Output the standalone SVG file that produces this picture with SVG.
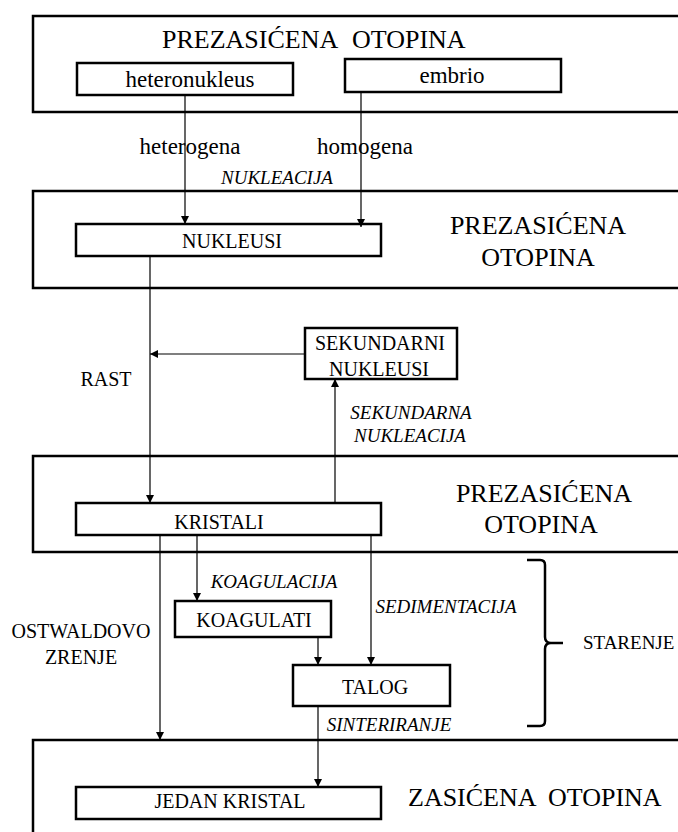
<svg xmlns="http://www.w3.org/2000/svg" width="678" height="832" viewBox="0 0 678 832" font-family="'Liberation Serif', 'Times New Roman', Times, 'DejaVu Serif', serif">
<style>
  .frame { fill: none; stroke: #000; stroke-width: 2.5; }
  .box { fill: #fff; stroke: #000; stroke-width: 2.5; }
  .line { fill: none; stroke: #000; stroke-width: 1.2; }
  text { font-family: 'Liberation Serif', 'Times New Roman', Times, 'DejaVu Serif', serif; fill: #000; }
  .title { font-size: 26px; }
  .lbl { font-size: 20px; text-anchor: middle; }
  .lbl-l { font-size: 23px; text-anchor: middle; }
  .it { font-size: 19px; font-style: italic; text-anchor: middle; }
</style>
<defs>
  <marker id="arr" viewBox="0 0 10 10" refX="10" refY="5" markerWidth="8" markerHeight="8" markerUnits="userSpaceOnUse" orient="auto">
    <path d="M0,0 L10,5 L0,10 z" fill="#000"/>
  </marker>
</defs>
<rect width="678" height="832" fill="#fff"/>

<g id="zone1">
  <rect class="frame" x="33" y="16" width="680" height="96"/>
  <text class="title" y="48"><tspan x="162">PREZASIĆENA</tspan><tspan x="352">OTOPINA</tspan></text>
</g>
<g id="heteronukleus">
  <rect class="box" x="77" y="63" width="216" height="32"/>
  <text class="lbl-l" x="190" y="87">heteronukleus</text>
</g>
<g id="embrio">
  <rect class="box" x="345" y="59" width="216" height="33"/>
  <text class="lbl-l" x="452" y="83">embrio</text>
</g>

<g id="zone2">
  <rect class="frame" x="33" y="191" width="680" height="97"/>
  <text class="title" x="538" y="234" text-anchor="middle">PREZASIĆENA</text>
  <text class="title" x="538" y="266" text-anchor="middle">OTOPINA</text>
</g>
<g id="nukleusi">
  <rect class="box" x="76" y="224" width="305" height="32"/>
  <text class="lbl" x="232" y="248">NUKLEUSI</text>
</g>
<g id="sekundarni">
  <rect class="box" x="305" y="328" width="152" height="51"/>
  <text class="lbl" x="380" y="350">SEKUNDARNI</text>
  <text class="lbl" x="379" y="376">NUKLEUSI</text>
</g>

<g id="zone3">
  <rect class="frame" x="33" y="456" width="680" height="96"/>
  <text class="title" x="544" y="502" text-anchor="middle">PREZASIĆENA</text>
  <text class="title" x="541" y="533" text-anchor="middle">OTOPINA</text>
</g>
<g id="kristali">
  <rect class="box" x="76" y="503" width="305" height="32"/>
  <text class="lbl" x="219" y="529">KRISTALI</text>
</g>
<g id="koagulati">
  <rect class="box" x="175" y="601" width="156" height="36"/>
  <text class="lbl" x="254" y="627">KOAGULATI</text>
</g>
<g id="talog">
  <rect class="box" x="293" y="665" width="157" height="41"/>
  <text class="lbl" x="375" y="694">TALOG</text>
</g>

<g id="zone4">
  <rect class="frame" x="33" y="740" width="680" height="120"/>
  <text class="title" y="806"><tspan x="408">ZASIĆENA</tspan><tspan x="548">OTOPINA</tspan></text>
</g>
<g id="jedan-kristal">
  <rect class="box" x="76" y="787" width="305" height="32"/>
  <text class="lbl" x="230" y="808">JEDAN KRISTAL</text>
</g>

<g id="starenje">
  <path class="frame" d="M527,560 L540,560 Q545,560 545,565 L545,637 Q545,643 551,643 L563,643 M551,643 Q545,643 545,649 L545,721 Q545,726 540,726 L527,726"/>
  <text x="583" y="649" font-size="19">STARENJE</text>
</g>

<g id="connectors">
  <line class="line" x1="185" y1="95" x2="185" y2="224" marker-end="url(#arr)"/>
  <line class="line" x1="361" y1="92" x2="361" y2="227" marker-end="url(#arr)"/>
  <line class="line" x1="150" y1="256" x2="150" y2="503" marker-end="url(#arr)"/>
  <line class="line" x1="305" y1="354" x2="150" y2="354" marker-end="url(#arr)"/>
  <line class="line" x1="335" y1="503" x2="335" y2="379" marker-end="url(#arr)"/>
  <line class="line" x1="160" y1="535" x2="160" y2="740" marker-end="url(#arr)"/>
  <line class="line" x1="197" y1="535" x2="197" y2="601" marker-end="url(#arr)"/>
  <line class="line" x1="371" y1="535" x2="371" y2="665" marker-end="url(#arr)"/>
  <line class="line" x1="318" y1="637" x2="318" y2="665" marker-end="url(#arr)"/>
  <line class="line" x1="318" y1="706" x2="318" y2="787" marker-end="url(#arr)"/>
</g>

<g id="labels">
  <text class="lbl-l" x="190" y="154">heterogena</text>
  <text class="lbl-l" x="365" y="154">homogena</text>
  <text class="it" x="277" y="184">NUKLEACIJA</text>
  <text class="lbl" x="106" y="386">RAST</text>
  <text class="it" x="411" y="419">SEKUNDARNA</text>
  <text class="it" x="410" y="442">NUKLEACIJA</text>
  <text class="it" x="274" y="588">KOAGULACIJA</text>
  <text class="it" x="446" y="613">SEDIMENTACIJA</text>
  <text class="lbl" x="81" y="638">OSTWALDOVO</text>
  <text class="lbl" x="81" y="664">ZRENJE</text>
  <text class="it" x="389" y="731">SINTERIRANJE</text>
</g>
</svg>
